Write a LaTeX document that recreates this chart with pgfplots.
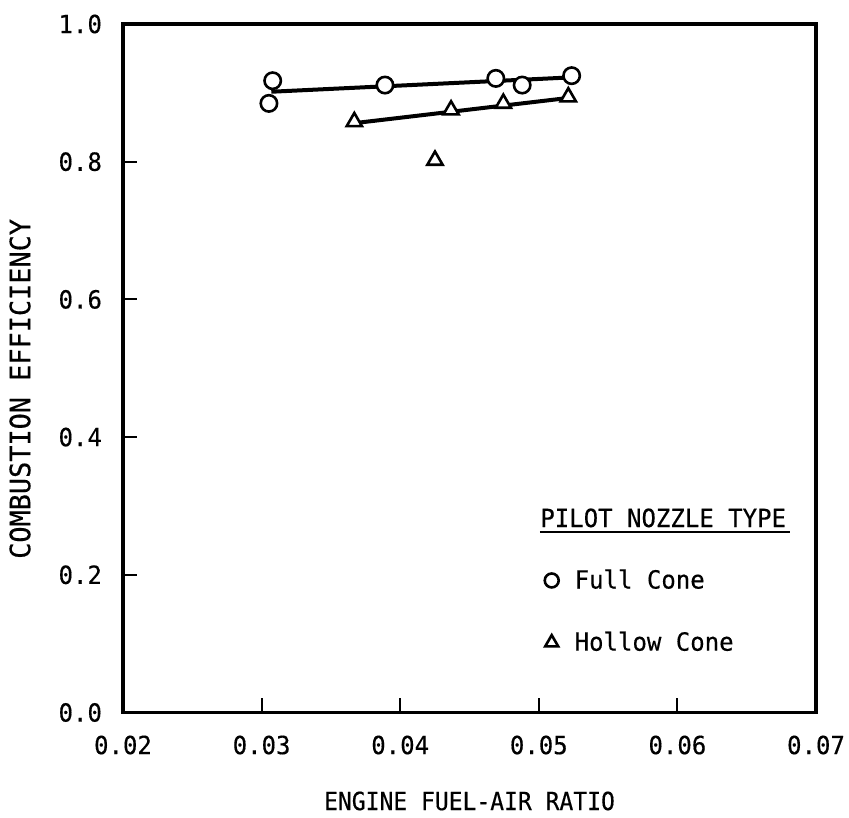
\documentclass[border=0pt]{standalone}
\usepackage{fontspec}
\setmainfont{DejaVu Sans Mono}[FakeStretch=0.96,FakeBold=0.4]
\newfontfamily\xlfont{DejaVu Sans Mono}[FakeStretch=0.92,FakeBold=0.4]
\usepackage{pgfplots}
\pgfplotsset{compat=1.18}
\newcommand{\chfont}{\fontsize{12.5}{14}\selectfont}
\begin{document}
\begin{tikzpicture}
\begin{axis}[
  scale only axis, width=346.5pt, height=344.25pt,
  xmin=0.02, xmax=0.07, ymin=0, ymax=1,
  xtick={0.02,0.03,0.04,0.05,0.06,0.07},
  xticklabels={0.02,0.03,0.04,0.05,0.06,0.07},
  ytick={0,0.2,0.4,0.6,0.8,1.0},
  yticklabels={0.0,0.2,0.4,0.6,0.8,1.0},
  scaled x ticks=false, scaled y ticks=false,
  /pgf/number format/assume math mode=true,
  tick label style={font=\chfont},
  xticklabel style={yshift=-8pt},
  yticklabel style={xshift=-7pt},
  tick align=inside, tick pos=left,
  major tick length=7pt,
  tick style={line width=1pt, black},
  axis line style={line width=1.6pt},
  xlabel={ENGINE FUEL-AIR RATIO},
  ylabel={COMBUSTION EFFICIENCY},
  xlabel style={font=\xlfont\fontsize{12.5}{14}\selectfont, at={(axis description cs:0.5,-0.1285)}, anchor=center},
  ylabel style={font=\fontsize{14}{16}\selectfont, at={(axis description cs:-0.1486,0.47)}, anchor=center},
  legend cell align=left,
  legend image code/.code={\draw[#1, every mark/.append style={scale=0.85}] plot coordinates {(0pt,0pt)};},
  legend style={draw=none, fill=none, at={(axis description cs:0.608,0.2084)}, anchor=north west,
    inner sep=0pt, row sep=20pt, column sep=8pt, nodes={inner sep=0pt, font=\chfont}},
]
\coordinate (O) at (rel axis cs:0,0);
% fitted lines
\addplot[black, line width=2pt, forget plot] coordinates {(0.0307,0.9016) (0.0524,0.9225)};
\addplot[black, line width=2pt, forget plot] coordinates {(0.0367,0.8560) (0.0521,0.8925)};
% data
\addplot[only marks, mark=*, mark size=4.1pt, mark options={draw=black, fill=white, line width=1.3pt}]
  coordinates {(0.0308,0.9176) (0.03053,0.8847) (0.0389,0.9113) (0.0469,0.9210) (0.0488,0.9113) (0.05237,0.9249)};
\addlegendentry{Full Cone}
\addplot[only marks, mark=triangle*, mark size=4.4pt, mark options={draw=black, fill=white, line width=1.3pt}]
  coordinates {(0.03669,0.8580) (0.04367,0.8750) (0.04744,0.8847) (0.05213,0.8940) (0.04251,0.8020)};
\addlegendentry{Hollow Cone}
\node[anchor=base west, inner sep=0pt, font=\chfont] (ttl) at (axis description cs:0.6017,0.2694) {PILOT NOZZLE TYPE};
\draw[line width=1.1pt] ([yshift=-2.6pt]ttl.base west) -- ([yshift=-2.6pt,xshift=2pt]ttl.base east);
\end{axis}
\pgfresetboundingbox
\path[use as bounding box] (O) ++(-61.5pt,-52.25pt) rectangle ++(424.5pt,408.5pt);
\end{tikzpicture}
\end{document}
